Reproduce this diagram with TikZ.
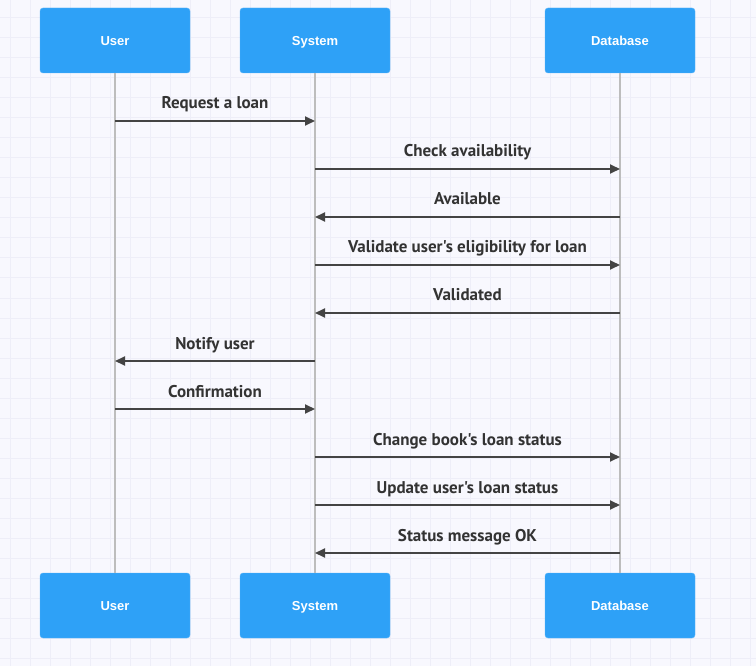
\documentclass[tikz,border=0pt]{standalone}
\usepackage{fontspec}
\setmainfont{Liberation Sans}
\newfontfamily\msgfont{PT Sans}
\usetikzlibrary{arrows.meta}
\definecolor{bg}{HTML}{F8F8FE}
\definecolor{gridc}{HTML}{EEEEF8}
\definecolor{actor}{HTML}{2EA1F7}
\definecolor{actorb}{HTML}{5AB4F8}
\definecolor{life}{HTML}{BDBDBD}
\definecolor{msg}{HTML}{444444}
\definecolor{txt}{HTML}{333333}
\tikzset{
  actorbox/.style={draw=actorb, fill=actor, rounded corners=3pt, minimum width=150pt, minimum height=65pt, inner sep=0pt, text height=9.4pt, text depth=0pt, text=white, font=\fontsize{13}{15}\selectfont\bfseries},
  lifeline/.style={draw=life, line width=1.4pt},
  msgline/.style={draw=msg, line width=1.8pt, -{Triangle[length=10pt,width=9pt]}},
  msglabel/.style={text=txt, font=\msgfont\fontsize{17}{20}\selectfont\bfseries, inner sep=0pt, anchor=base}
}
\begin{document}
\begin{tikzpicture}[x=1pt,y=-1pt]
\fill[bg] (0,0) rectangle (756,666);
\useasboundingbox (0,0) rectangle (756,666);
\foreach \gx in {10,30,...,750} \draw[gridc, line width=1pt] (\gx,0) -- (\gx,666);
\foreach \gy in {18,38,...,660} \draw[gridc, line width=1pt] (0,\gy) -- (756,\gy);
% actors
\node[actorbox] (ut) at (115,40.5) {User};
\node[actorbox] (st) at (315,40.5) {System};
\node[actorbox] (dt) at (620,40.5) {Database};
\node[actorbox] (ub) at (115,605.5) {User};
\node[actorbox] (sb) at (315,605.5) {System};
\node[actorbox] (db) at (620,605.5) {Database};
\draw[lifeline] (ut.south) -- (ub.north);
\draw[lifeline] (st.south) -- (sb.north);
\draw[lifeline] (dt.south) -- (db.north);
% message anchors
\foreach \n/\yy in {1/121,2/169,3/217,4/265,5/313,6/361,7/409,8/457,9/505,10/553}{
  \coordinate (u\n) at (115,\yy);
  \coordinate (s\n) at (315,\yy);
  \coordinate (d\n) at (620,\yy);
}
\draw[msgline] (u1) -- (s1);
\node[msglabel] (l1) at (215,109) {Request a loan};
\draw[msgline] (s2) -- (d2);
\node[msglabel] (l2) at (467.5,157) {Check availability};
\draw[msgline] (d3) -- (s3);
\node[msglabel] (l3) at (467.5,205) {Available};
\draw[msgline] (s4) -- (d4);
\node[msglabel] (l4) at (467.5,253) {Validate user's eligibility for loan};
\draw[msgline] (d5) -- (s5);
\node[msglabel] (l5) at (467.5,301) {Validated};
\draw[msgline] (s6) -- (u6);
\node[msglabel] (l6) at (215,349) {Notify user};
\draw[msgline] (u7) -- (s7);
\node[msglabel] (l7) at (215,397) {Confirmation};
\draw[msgline] (s8) -- (d8);
\node[msglabel] (l8) at (467.5,445) {Change book's loan status};
\draw[msgline] (s9) -- (d9);
\node[msglabel] (l9) at (467.5,493) {Update user's loan status};
\draw[msgline] (d10) -- (s10);
\node[msglabel] (l10) at (467.5,541) {Status message OK};
\end{tikzpicture}
\end{document}
